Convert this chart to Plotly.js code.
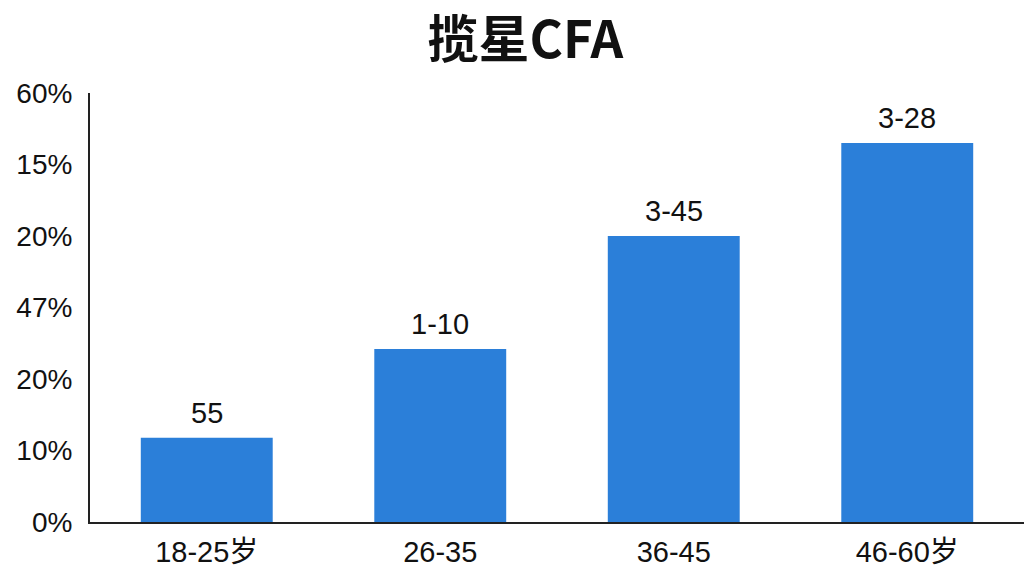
<!DOCTYPE html>
<html>
<head>
<meta charset="utf-8">
<script src="https://cdn.plot.ly/plotly-3.0.1.min.js"></script>
<style>html,body{margin:0;padding:0;background:#fff;}#chart{width:1024px;height:576px;}</style>
</head>
<body>
<div id="chart"></div>
<script>
const categories = ["18-25岁", "26-35", "36-45", "46-60岁"];
const values = [11.8, 24.2, 40.0, 53.0];
const barLabels = ["55", "1-10", "3-45", "3-28"];
const yTickVals = [0, 10, 20, 30, 40, 50, 60];
const yTickText = ["0%", "10%", "20%", "47%", "20%", "15%", "60%"];
const chartTitle = "揽星CFA";

const FONT = "Liberation Sans, Arial, 'Noto Sans CJK SC', sans-serif";

const trace = {
  type: "bar",
  x: categories,
  y: values,
  marker: {color: "#2b7fd9"},
  width: 0.565,
  hoverinfo: "skip"
};

const annotations = categories.map((c, i) => ({
  x: c, y: values[i], xref: "x", yref: "y",
  text: barLabels[i], showarrow: false,
  yanchor: "bottom", yshift: 7,
  font: {family: FONT, size: 29, color: "#111"}
}));

const layout = {
  width: 1024, height: 576,
  margin: {l: 90, r: 0, t: 93, b: 54},
  paper_bgcolor: "#fff", plot_bgcolor: "#fff",
  showlegend: false,
  title: {
    text: "<b>" + chartTitle + "</b>",
    x: 0.513, xanchor: "center", xref: "container",
    y: 0.93, yanchor: "middle", yref: "container",
    font: {family: "'Noto Sans CJK SC', sans-serif", size: 51, color: "#111"}
  },
  xaxis: {
    type: "category",
    range: [-0.5, 3.5],
    showline: true, linecolor: "#222", linewidth: 2,
    showgrid: false, zeroline: false, ticks: "",
    ticklabelstandoff: 3,
    tickfont: {family: FONT, size: 29, color: "#111"}
  },
  yaxis: {
    range: [0, 60],
    tickmode: "array", tickvals: yTickVals, ticktext: yTickText,
    showline: true, linecolor: "#222", linewidth: 2,
    showgrid: false, zeroline: false, ticks: "",
    ticklabelstandoff: 10,
    tickfont: {family: FONT, size: 28, color: "#111"}
  },
  annotations: annotations
};

Plotly.newPlot("chart", [trace], layout, {displayModeBar: false, staticPlot: true});
</script>
</body>
</html>
